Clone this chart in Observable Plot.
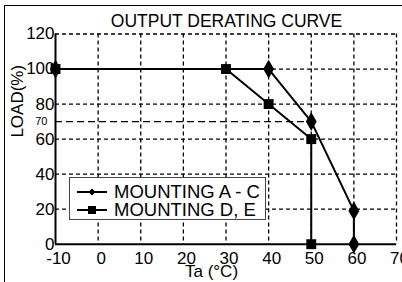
<!DOCTYPE html>
<html>
<head>
<meta charset="utf-8">
<script src="https://cdn.jsdelivr.net/npm/d3@7"></script>
<script src="https://cdn.jsdelivr.net/npm/@observablehq/plot@0.6"></script>
<style>
  html, body { margin: 0; padding: 0; background: #fff; }
  #wrap { position: relative; width: 402px; height: 282px; overflow: hidden; font-family: "Liberation Sans", Arial, sans-serif; }
  #wrap > svg { position: absolute; left: 0; top: 0; }
  #frame { position: absolute; left: 3.5px; top: 5px; width: 420px; height: 300px; border-top: 1.5px solid #000; border-left: 1.5px solid #000; }
  #legend { position: absolute; left: 69px; top: 177px; width: 195px; height: 41px; border: 1.5px solid #444; background: #fff; }
  .row { position: absolute; left: 0; height: 18px; display: flex; align-items: center; font-size: 18.5px; color: #000; white-space: nowrap; }
  .row svg { display: block; margin-left: 7px; margin-right: 7px; }
</style>
</head>
<body>
<div id="wrap">
  <div id="frame"></div>
</div>
<script>
// ---- data ----
const seriesNames = ["MOUNTING A - C", "MOUNTING D, E"];
const acTa   = [-10, 40, 50, 60, 60];
const acLoad = [100, 100, 70, 19, 0];
const deTa   = [-10, 30, 40, 50, 50];
const deLoad = [100, 100, 80, 60, 0];
const xTicks = [-10, 0, 10, 20, 30, 40, 50, 60, 70];
const yTicks = [0, 20, 40, 60, 80, 100, 120];
const extraYTick = [70];
const titleText = "OUTPUT DERATING CURVE";
const xLabel = "Ta (°C)";
const yLabel = "LOAD(%)";

const rows = [];
acTa.forEach((t, i) => rows.push({series: seriesNames[0], ta: t, load: acLoad[i]}));
deTa.forEach((t, i) => rows.push({series: seriesNames[1], ta: t, load: deLoad[i]}));
const ac = rows.filter(d => d.series === seriesNames[0]);
const de = rows.filter(d => d.series === seriesNames[1]);

const font = "Liberation Sans, Arial, sans-serif";

const chart = Plot.plot({
  width: 402,
  height: 282,
  marginLeft: 55,
  marginRight: 6,
  marginTop: 33.5,
  marginBottom: 38.3,
  style: {fontFamily: font, background: "transparent", overflow: "visible"},
  x: {domain: [-10, 70]},
  y: {domain: [0, 120]},
  marks: [
    Plot.gridX(xTicks.filter(t => t > -10), {stroke: "#000", strokeOpacity: 1, strokeWidth: 1.3, strokeDasharray: "4,3"}),
    Plot.gridY(yTicks.filter(t => t > 0), {stroke: "#000", strokeOpacity: 1, strokeWidth: 1.3, strokeDasharray: "4,3"}),
    Plot.ruleY(extraYTick, {x1: -10, x2: 50, stroke: "#000", strokeWidth: 1.2, strokeDasharray: "7,4"}),
    Plot.ruleX([-10], {stroke: "#000", strokeWidth: 2}),
    Plot.ruleY([0], {stroke: "#000", strokeWidth: 2}),
    Plot.axisX(xTicks, {tickSize: 0, tickPadding: 8, fontSize: 17, dx: 3, label: null, tickFormat: d => String(d)}),
    Plot.axisY(yTicks, {tickSize: 0, tickPadding: 1, fontSize: 17, label: null, tickFormat: d => String(d)}),
    Plot.axisY(extraYTick, {tickSize: 0, tickPadding: 8, fontSize: 11, label: null}),
    Plot.line(ac, {x: "ta", y: "load", stroke: "#000", strokeWidth: 2}),
    Plot.dot(ac, {x: "ta", y: "load", symbol: "diamond", r: 5.7, fill: "#000", stroke: "none"}),
    Plot.line(de, {x: "ta", y: "load", stroke: "#000", strokeWidth: 2}),
    Plot.dot(de, {x: "ta", y: "load", symbol: "square", r: 5.6, fill: "#000", stroke: "none"}),
    Plot.text([titleText], {frameAnchor: "top", lineAnchor: "middle", dy: -12.5, dx: 0.5, fontSize: 17.5, fill: "#000"}),
    Plot.text([xLabel], {frameAnchor: "bottom", lineAnchor: "middle", dy: 27, dx: -14.5, fontSize: 17, fill: "#000"}),
    Plot.text([yLabel], {frameAnchor: "left", lineAnchor: "middle", rotate: -90, dx: -37.5, dy: -1.5, fontSize: 17, fill: "#000"})
  ]
});
document.getElementById("wrap").appendChild(chart);

// legend (HTML overlay)
const legend = document.createElement("div");
legend.id = "legend";
const symbols = ["diamond", "square"];
seriesNames.forEach((name, i) => {
  const row = document.createElement("div");
  row.className = "row";
  row.style.top = (i === 0 ? 4.5 : 22.5) + "px";
  const s = d3.create("svg").attr("width", 30).attr("height", 14);
  s.append("line").attr("x1", 0).attr("x2", 30).attr("y1", 7).attr("y2", 7).attr("stroke", "#000").attr("stroke-width", 2);
  if (symbols[i] === "diamond") {
    s.append("path").attr("d", "M15,3.5L18.5,7L15,10.5L11.5,7Z").attr("fill", "#000");
  } else {
    s.append("rect").attr("x", 11).attr("y", 3).attr("width", 8).attr("height", 8).attr("fill", "#000");
  }
  row.appendChild(s.node());
  const t = document.createElement("span");
  t.textContent = name;
  row.appendChild(t);
  legend.appendChild(row);
});
document.getElementById("wrap").appendChild(legend);
</script>
</body>
</html>
